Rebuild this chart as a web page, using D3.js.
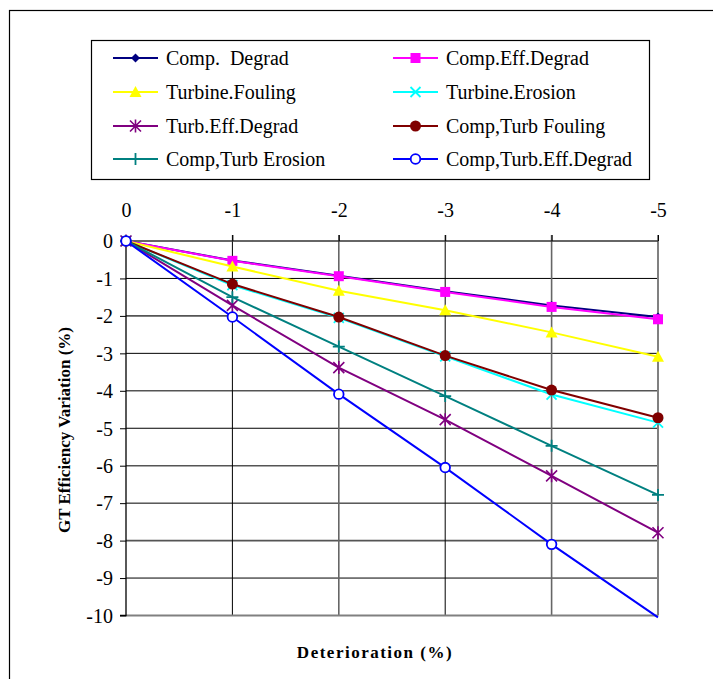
<!DOCTYPE html>
<html><head><meta charset="utf-8">
<script src="https://cdn.jsdelivr.net/npm/d3@7"></script>
<style>body{margin:0;background:#fff}svg{display:block}text{font-family:"Liberation Serif","Times New Roman",serif}</style>
</head><body>
<svg id="c" width="713" height="679"></svg>
<script>
const xTicks = [0, -1, -2, -3, -4, -5];
const yTicks = [0, -1, -2, -3, -4, -5, -6, -7, -8, -9, -10];
const seriesNames = ["Comp.  Degrad", "Comp.Eff.Degrad", "Turbine.Fouling", "Turbine.Erosion",
  "Turb.Eff.Degrad", "Comp,Turb Fouling", "Comp,Turb Erosion", "Comp,Turb.Eff.Degrad"];
const compDegrad      = [0, -0.52, -0.93, -1.34, -1.72, -2.03];
const compEffDegrad   = [0, -0.53, -0.94, -1.36, -1.76, -2.09];
const turbFouling     = [0, -0.68, -1.33, -1.85, -2.44, -3.09];
const turbErosion     = [0, -1.18, -2.05, -3.08, -4.10, -4.85];
const turbEffDegrad   = [0, -1.72, -3.38, -4.77, -6.27, -7.79];
const ctFouling       = [0, -1.15, -2.03, -3.06, -3.98, -4.72];
const ctErosion       = [0, -1.50, -2.82, -4.14, -5.47, -6.78];
const ctEffDegrad     = [0, -2.03, -4.09, -6.05, -8.10, -10.05];
const seriesValues = [compDegrad, compEffDegrad, turbFouling, turbErosion, turbEffDegrad, ctFouling, ctErosion, ctEffDegrad];
const colors = ["#000080", "#FF00FF", "#FFFF00", "#00FFFF", "#800080", "#800000", "#008080", "#0000FF"];
const markers = ["diamond", "square", "triangle", "x", "asterisk", "dot", "plus", "ring"];

const svg = d3.select("#c");
svg.append("rect").attr("x", 9.5).attr("y", 10.5).attr("width", 720).attr("height", 700)
  .attr("fill", "none").attr("stroke", "#000").attr("stroke-width", 1.2);

const x = d3.scaleLinear().domain([0, -5]).range([126, 658]);
const y = d3.scaleLinear().domain([0, -10]).range([241, 615.5]);
const fmt = d => String(d);

const g = svg.append("g");
g.selectAll("line.h").data(yTicks.slice(1, -1)).enter().append("line")
  .attr("x1", x(0)).attr("x2", x(-5)).attr("y1", d => y(d)).attr("y2", d => y(d))
  .attr("stroke", d => (d % 2 === 0) ? "#555" : "#000").attr("stroke-width", d => (d % 2 === 0) ? 1.6 : 1);
g.selectAll("line.v").data(xTicks.slice(1, -1)).enter().append("line")
  .attr("x1", d => x(d)).attr("x2", d => x(d)).attr("y1", y(0) - 6).attr("y2", y(-10))
  .attr("stroke", d => (d % 2 === 0) ? "#666" : "#000").attr("stroke-width", d => (d % 2 === 0) ? 1.6 : 1);
g.append("line").attr("x1", x(-5)).attr("x2", x(-5)).attr("y1", y(0) - 6).attr("y2", y(-10))
  .attr("stroke", "#808080").attr("stroke-width", 2);
g.append("line").attr("x1", x(0)).attr("x2", x(-5)).attr("y1", y(-10)).attr("y2", y(-10))
  .attr("stroke", "#808080").attr("stroke-width", 2.2);

const yAxis = d3.axisLeft(y).tickValues(yTicks).tickSize(6).tickFormat(fmt);
const ya = svg.append("g").attr("transform", `translate(${x(0)},0)`).call(yAxis);
ya.select(".domain").attr("stroke", "#000").attr("stroke-width", 1.3).attr("d", `M-6,${y(0)}H0V${y(-10)}H-6`);
ya.selectAll(".tick line").attr("stroke", "#000");
ya.selectAll(".tick text").attr("font-size", 20).attr("fill", "#000").attr("x", -13).attr("dy", "0.34em")
  .style("font-family", '"Liberation Serif",serif');

const xAxis = d3.axisTop(x).tickValues(xTicks).tickSize(6).tickFormat(fmt);
const xa = svg.append("g").attr("transform", `translate(0,${y(0)})`).call(xAxis);
xa.select(".domain").attr("stroke", "#333").attr("stroke-width", 1.6).attr("d", `M${x(0)},0H${x(-5)}`);
xa.selectAll(".tick line").attr("stroke", "#000");
xa.selectAll(".tick text").attr("font-size", 20).attr("fill", "#000").attr("y", -24)
  .style("font-family", '"Liberation Serif",serif');

function drawMarker(sel, type, color) {
  switch (type) {
    case "diamond": sel.append("path").attr("d", "M0,-4.5L4.5,0L0,4.5L-4.5,0Z").attr("fill", color); break;
    case "square": sel.append("rect").attr("x", -5).attr("y", -5).attr("width", 10).attr("height", 10).attr("fill", color); break;
    case "triangle": sel.append("path").attr("d", "M0,-6L6,5L-6,5Z").attr("fill", color); break;
    case "x": sel.append("path").attr("d", "M-5,-5L5,5M-5,5L5,-5").attr("stroke", color).attr("stroke-width", 1.8).attr("fill", "none"); break;
    case "asterisk": sel.append("path").attr("d", "M-5.5,-5.5L5.5,5.5M-5.5,5.5L5.5,-5.5M0,-6.5V6.5").attr("stroke", color).attr("stroke-width", 1.6).attr("fill", "none"); break;
    case "dot": sel.append("circle").attr("r", 5.5).attr("fill", color); break;
    case "plus": sel.append("path").attr("d", "M-6,0H6M0,-6V6").attr("stroke", color).attr("stroke-width", 1.8).attr("fill", "none"); break;
    case "ring": sel.append("circle").attr("r", 4.8).attr("fill", "#fff").attr("stroke", color).attr("stroke-width", 1.8); break;
  }
}

const line = d3.line().x((d, i) => x(xTicks[i])).y(d => y(d));
seriesValues.forEach((vals, si) => {
  const sg = svg.append("g");
  sg.append("path").datum(vals).attr("d", line).attr("fill", "none")
    .attr("stroke", colors[si]).attr("stroke-width", 2);
  vals.forEach((v, i) => {
    if (v < -10) return; // marker outside axis range is not drawn
    const m = sg.append("g").attr("transform", `translate(${x(xTicks[i])},${y(v)})`);
    drawMarker(m, markers[si], colors[si]);
  });
});

const lg = svg.append("g");
lg.append("rect").attr("x", 91.5).attr("y", 40.5).attr("width", 558).attr("height", 139)
  .attr("fill", "#fff").attr("stroke", "#000").attr("stroke-width", 1.2);
const rowsY = [58, 92, 126, 159];
const colX = [113, 393];
seriesNames.forEach((name, i) => {
  const r = Math.floor(i / 2), c = i % 2;
  const it = lg.append("g").attr("transform", `translate(${colX[c]},${rowsY[r]})`);
  it.append("line").attr("x1", 0).attr("x2", 45).attr("y1", 0).attr("y2", 0)
    .attr("stroke", colors[i]).attr("stroke-width", 2);
  const m = it.append("g").attr("transform", "translate(22.5,0)");
  drawMarker(m, markers[i], colors[i]);
  it.append("text").attr("x", 53).attr("y", 0).attr("dy", "0.34em").attr("font-size", 20)
    .attr("fill", "#000").style("white-space", "pre").text(name);
});

svg.append("text").attr("x", 375).attr("y", 658).attr("text-anchor", "middle")
  .attr("font-size", 17).attr("font-weight", "bold").attr("letter-spacing", 1.5).text("Deterioration (%)");
svg.append("text").attr("transform", "translate(70,430) rotate(-90)").attr("text-anchor", "middle")
  .attr("font-size", 17).attr("font-weight", "bold").text("GT Efficiency Variation (%)");
</script>
</body></html>
